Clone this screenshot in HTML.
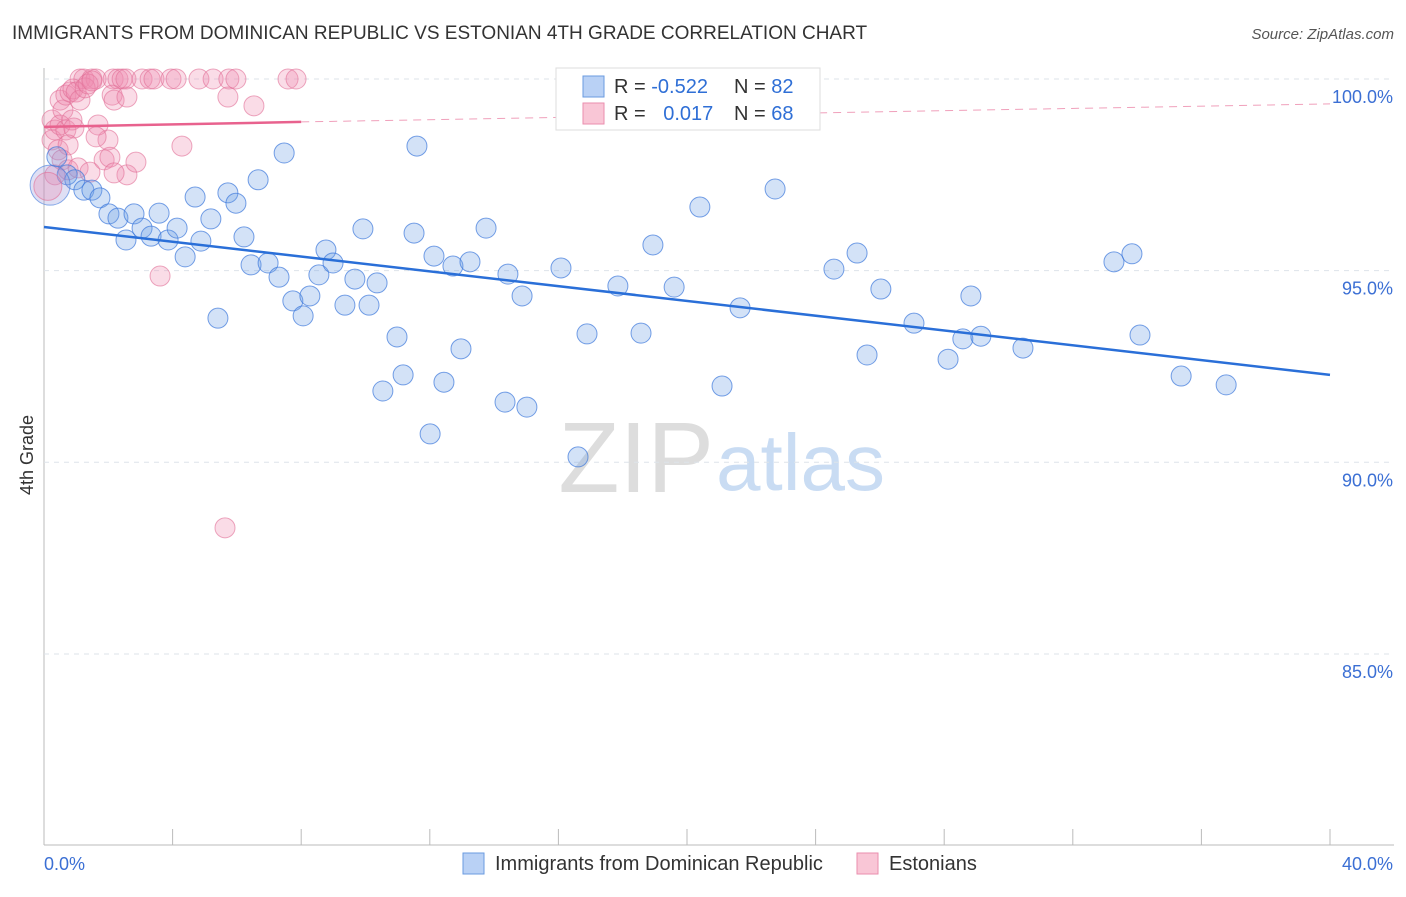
<!DOCTYPE html>
<html><head><meta charset="utf-8"><style>
body{margin:0;background:#fff;font-family:"Liberation Sans",sans-serif;}
svg text{font-family:"Liberation Sans",sans-serif;}
</style></head><body>
<svg id="c" width="1406" height="892">
<text x="12" y="39" font-size="19" fill="#333">IMMIGRANTS FROM DOMINICAN REPUBLIC VS ESTONIAN 4TH GRADE CORRELATION CHART</text>
<text x="1394" y="39" font-size="15" fill="#555" font-style="italic" text-anchor="end">Source: ZipAtlas.com</text>
<text x="33" y="455" font-size="18" fill="#333" text-anchor="middle" transform="rotate(-90 33 455)">4th Grade</text>
<text x="714" y="492" font-size="100" fill="#ddd" text-anchor="end" font-family="Liberation Serif">ZIP</text>
<text x="716" y="490" font-size="80" fill="#c9dcf3">atlas</text>
<g id="grid"></g><g id="pts"></g><g id="trend"></g>
<g>
<rect x="556" y="68" width="264" height="62" fill="#fff" stroke="#ddd"/>
<rect x="583" y="76" width="21" height="21" fill="#b9d1f5" stroke="#6a9be0"/>
<rect x="583" y="103" width="21" height="21" fill="#f9c6d6" stroke="#ea8eae"/>
<text x="614" y="93" font-size="20" fill="#333">R = <tspan fill="#2f6fd6">-0.522</tspan></text>
<text x="734" y="93" font-size="20" fill="#333">N = <tspan fill="#2f6fd6">82</tspan></text>
<text x="614" y="120" font-size="20" fill="#333">R = <tspan fill="#2f6fd6" dx="12">0.017</tspan></text>
<text x="734" y="120" font-size="20" fill="#333">N = <tspan fill="#2f6fd6">68</tspan></text>
</g>
<g>
<rect x="463" y="853" width="21" height="21" fill="#b9d1f5" stroke="#6a9be0"/>
<text x="495" y="870" font-size="20" fill="#333">Immigrants from Dominican Republic</text>
<rect x="857" y="853" width="21" height="21" fill="#f9c6d6" stroke="#ea8eae"/>
<text x="889" y="870" font-size="20" fill="#333">Estonians</text>
</g>
</svg>
<script>
const yTicks=[100,95,90,85];
const yTickLabels=["100.0%","95.0%","90.0%","85.0%"];
const xTickLabels=["0.0%","40.0%"];
const blueX=[0.40,0.72,0.96,1.24,1.49,1.74,2.02,2.30,2.55,2.80,3.05,3.33,3.58,3.86,4.14,4.39,4.70,4.88,5.19,5.41,5.72,5.97,6.22,6.44,6.66,6.97,7.31,7.47,7.74,8.06,8.27,8.55,8.77,8.99,9.36,9.67,9.92,10.11,10.36,10.54,10.98,11.17,11.51,11.60,12.01,12.13,12.44,12.72,12.97,13.25,13.75,14.34,14.43,14.87,15.02,16.08,16.61,16.89,17.85,18.57,18.94,19.60,20.40,21.09,21.65,22.74,24.57,25.29,25.60,26.03,27.06,28.12,28.58,28.83,29.14,30.45,33.28,33.84,34.09,35.37,36.77];
const blueY=[97.97,97.50,97.37,97.10,97.10,96.90,96.48,96.37,95.80,96.48,96.11,95.90,96.50,95.80,96.11,95.36,96.92,95.77,96.35,93.76,97.03,96.76,95.88,95.15,97.37,95.20,94.83,98.07,94.21,93.82,94.34,94.89,95.54,95.20,94.10,94.78,96.09,94.10,94.68,91.86,93.27,92.28,95.98,98.25,90.74,95.38,92.09,95.12,92.96,95.23,96.11,91.57,94.91,94.34,91.44,95.07,90.14,93.35,94.60,93.37,95.67,94.57,96.66,91.99,94.03,97.13,95.04,95.46,92.80,94.52,93.63,92.69,93.22,94.34,93.29,92.98,95.23,95.44,93.32,92.25,92.02];
const pinkX=[1.12,1.24,1.49,1.62,2.15,2.30,2.43,2.55,3.05,3.30,3.42,3.95,4.11,4.82,5.26,5.75,5.97,7.59,7.84,0.25,0.25,0.34,0.44,0.50,0.59,0.68,0.81,0.90,1.00,1.12,1.28,1.37,1.49,0.50,0.68,0.87,0.93,0.75,0.34,0.56,0.75,1.06,1.43,1.87,1.99,2.12,2.18,2.58,1.68,1.62,2.05,2.58,2.86,2.18,4.29,3.61,5.63,5.72,6.53];
const pinkY=[100,100,100,100,100,100,100,100,100,100,100,100,100,100,100,100,100,100,100,98.93,98.41,98.67,98.15,99.45,99.19,99.58,99.66,99.74,99.66,99.45,99.77,99.87,99.95,98.80,98.67,98.93,98.72,98.28,97.50,97.89,97.63,97.68,97.57,97.89,98.41,99.58,99.45,99.53,98.80,98.49,97.96,97.50,97.83,97.55,98.25,94.86,88.29,99.53,99.30];
const bigX=[0.19,0.12];const bigY=[97.23,97.2];
const blueTrendX=[0,40],blueTrendY=[96.14,92.28];
const pinkTrendX=[0,8,40],pinkTrendY=[98.75,98.88,99.35];
const NS="http://www.w3.org/2000/svg";
const sx=v=>44+v*32.15, sy=v=>79+(100-v)*38.33;
function mk(t,a,p){const e=document.createElementNS(NS,t);for(const k in a)e.setAttribute(k,a[k]);p.appendChild(e);return e;}
const g=document.getElementById('grid');
mk('line',{x1:44,y1:68,x2:44,y2:845,stroke:'#bbb'},g);
mk('line',{x1:44,y1:845,x2:1394,y2:845,stroke:'#bbb'},g);
for(let i=0;i<=10;i++){const t=mk('line',{x1:sx(i*4),y1:829,x2:sx(i*4),y2:845,stroke:'#bbb'},g);

}
yTicks.forEach((v,i)=>{const l=mk('line',{x1:44,y1:sy(v),x2:1394,y2:sy(v),stroke:'#dde3ea','stroke-dasharray':'5,5'},g);


const t=mk('text',{x:1393,y:sy(v)+24,'font-size':18,fill:'#3b6fd4','text-anchor':'end'},g);t.textContent=yTickLabels[i];

});
xTickLabels.forEach((s,i)=>{const t=mk('text',{x:i?1393:44,y:870,'font-size':18,fill:'#3b6fd4','text-anchor':i?'end':'start'},g);t.textContent=s;

});
const p=document.getElementById('pts');
pinkX.forEach((x,i)=>{const c=mk('circle',{cx:sx(x),cy:sy(pinkY[i]),r:10,fill:'rgba(240,140,175,0.3)',stroke:'rgba(225,110,150,0.6)'},p);

});
blueX.forEach((x,i)=>{const c=mk('circle',{cx:sx(x),cy:sy(blueY[i]),r:10,fill:'rgba(110,160,230,0.3)',stroke:'rgba(60,120,220,0.7)'},p);

});
bigX.forEach((x,i)=>{const c=mk('circle',{cx:sx(x),cy:sy(bigY[i]),r:i?14:20,fill:i?'rgba(240,140,175,0.3)':'rgba(150,150,220,0.3)',stroke:i?'rgba(225,110,150,0.6)':'rgba(60,120,220,0.6)'},p);

});
const tr=document.getElementById('trend');
let l=mk('line',{x1:sx(blueTrendX[0]),y1:sy(blueTrendY[0]),x2:sx(blueTrendX[1]),y2:sy(blueTrendY[1]),stroke:'#2a6fd8','stroke-width':2.5},tr);


l=mk('line',{x1:sx(pinkTrendX[0]),y1:sy(pinkTrendY[0]),x2:sx(pinkTrendX[1]),y2:sy(pinkTrendY[1]),stroke:'#e8628e','stroke-width':2.5},tr);


l=mk('line',{x1:sx(pinkTrendX[1]),y1:sy(pinkTrendY[1]),x2:sx(pinkTrendX[2]),y2:sy(pinkTrendY[2]),stroke:'#f0a0bb','stroke-width':1,'stroke-dasharray':'8,6'},tr);


</script>
</body></html>
